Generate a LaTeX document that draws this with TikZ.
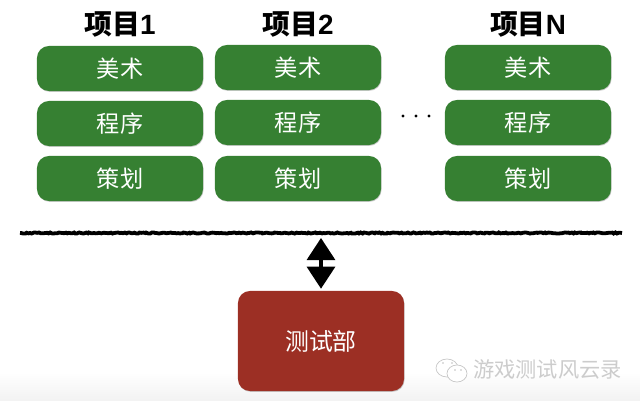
\documentclass[tikz,border=0pt]{standalone}
\usepackage{fontspec}
\setmainfont{Liberation Sans}
\newfontfamily\cjk{Noto Sans CJK SC}
\usetikzlibrary{arrows.meta, shadows, decorations.pathmorphing}
\definecolor{boxgreen}{RGB}{54,128,50}
\definecolor{boxred}{RGB}{156,47,36}
\tikzset{
  rolebox/.style={draw=none, fill=boxgreen, rounded corners=0.3cm, minimum width=4.15cm, minimum height=1.125cm,
    text=white, font=\cjk\fontsize{16.5}{18}\selectfont, inner sep=0pt,
    drop shadow={shadow xshift=0.4pt, shadow yshift=-0.6pt, opacity=0.4}},
  teambox/.style={rolebox, fill=boxred, minimum height=2.5cm, font=\cjk\fontsize{17}{19}\selectfont},
  title/.style={font=\bfseries\fontsize{19.8}{21}\selectfont, inner sep=0pt},
  rough/.style={decorate, decoration={random steps, segment length=1.2pt, amplitude=0.4pt}},
  mark text/.style={text=black!20, font=\cjk\fontsize{15.1}{17}\selectfont, inner sep=0pt},
  mark line/.style={black!22, fill=white, line width=0.5pt}
}
\begin{document}
\begin{tikzpicture}[x=0.025cm, y=-0.025cm]
    \useasboundingbox (0, 0) rectangle (640, 401);

    % Bottom fade
    \fill [bottom color=black!5, top color=white, draw=none] (0, 372) rectangle (640, 401);

    % Projects
    \foreach \col/\x/\y/\name in {a/120/0/{\cjk 项目}1, b/298/-1/{\cjk 项目}2, c/528/-1/{\cjk 项目}N} {
      \node [title] (title\col) at (\x, 24) {\name};
      \node [rolebox] (art\col) at (\x, 68.5 + \y) {美术};
      \node [rolebox] (code\col) at (\x, 123.5 + \y) {程序};
      \node [rolebox] (plan\col) at (\x, 178.5) {策划};
    }

    % Dots
    \foreach \x in {403, 416, 429}
      \fill (\x, 116) circle (1.7);

    % Separator
    \coordinate (sepl) at (20, 233);
    \coordinate (sepr) at (622, 233);
    \coordinate (sepm) at (321, 233);
    \draw [line width=2.7pt, rough] (sepl) -- (sepr);

    % Test team
    \node [teambox] (test) at (321, 341) {测试部};

    % Link
    \draw [{Triangle[length=0.55cm, width=0.7cm]}-{Triangle[length=0.55cm, width=0.7cm]}, line width=2.2pt]
      ([yshift=-0.125cm] sepm) -- ([yshift=0.05cm] test.north);

    % Watermark
    \draw [mark line] (447, 368) ellipse (11 and 9);
    \draw [mark line] (457, 373.5) ellipse (10 and 8.5);
    \foreach \x/\y in {443/363, 452/363, 455/370, 461/370}
      \fill [black!25] (\x, \y) circle (0.8);
    \node [mark text] (mark) at (547.5, 369) {游戏测试风云录};
  \end{tikzpicture}
\end{document}
